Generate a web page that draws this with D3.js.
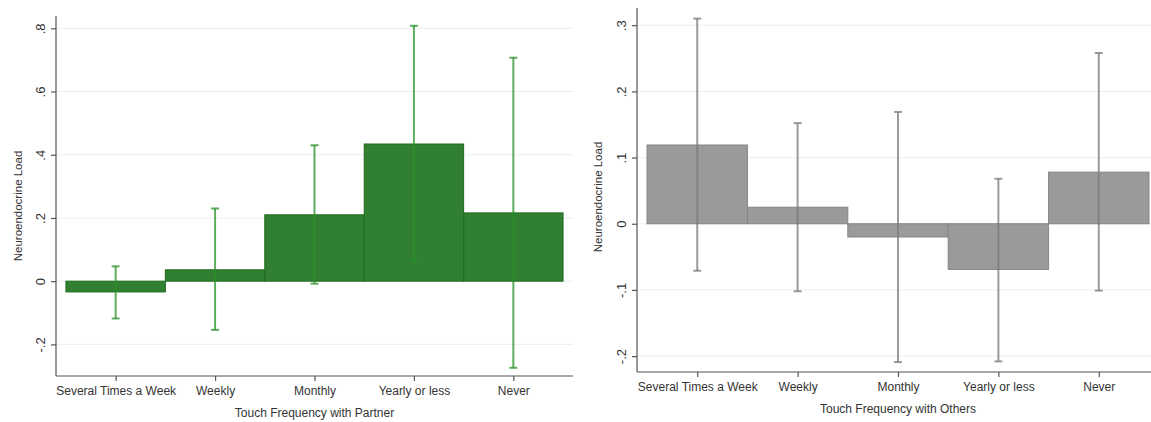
<!DOCTYPE html>
<html>
<head>
<meta charset="utf-8">
<script src="https://cdn.jsdelivr.net/npm/d3@7"></script>
<style>
	body { margin: 0; background: #fff; }
	svg { display: block; font-family: "Liberation Sans", Arial, sans-serif; }
</style>
</head>
<body>
<svg id="chart" width="1151" height="422"></svg>
<script>
/* Data */
const categories = ["Several Times a Week", "Weekly", "Monthly", "Yearly or less", "Never"];

const partnerMean = [-0.034, 0.036, 0.210, 0.434, 0.216];
const partnerLow = [-0.118, -0.154, -0.008, 0.065, -0.274];
const partnerHigh = [0.047, 0.230, 0.430, 0.808, 0.707];
const partnerTicks = [-0.2, 0, 0.2, 0.4, 0.6, 0.8];

const othersMean = [0.119, 0.025, -0.020, -0.069, 0.078];
const othersLow = [-0.071, -0.102, -0.209, -0.208, -0.101];
const othersHigh = [0.310, 0.152, 0.169, 0.068, 0.258];
const othersTicks = [-0.2, -0.1, 0, 0.1, 0.2, 0.3];

// Stata style labels: ".8", "-.2", "0"
function stataFmt(v) {
	if (Math.abs(v) < 1e-9) return "0";
	return String(+v.toFixed(2)).replace(/^(-?)0\./, "$1.");
}

const svg = d3.select("#chart");

/**
 * Draw one bar panel
 *
 * @param {Object} cfg - Panel layout and data.
 */
function panel(cfg) {
	let xScale = d3.scaleLinear().domain([0.4, 5.6]).range([cfg.left, cfg.right]);
	let yScale = d3.scaleLinear().domain(cfg.yDomain).range([cfg.bottom, cfg.top]);
	let rows = categories.map(function(c, i) {
		return { key: c, pos: i + 1, value: cfg.mean[i], low: cfg.low[i], high: cfg.high[i] };
	});

	let g = svg.append("g");

	// Gridlines
	g.selectAll(".grid")
		.data(cfg.ticks)
		.enter()
		.append("line")
		.attr("x1", cfg.left + 1)
		.attr("x2", cfg.right)
		.attr("y1", function(d) { return yScale(d); })
		.attr("y2", function(d) { return yScale(d); })
		.attr("stroke", "#e8f0f3")
		.attr("stroke-width", 1);

	// Bars
	g.selectAll(".bar")
		.data(rows)
		.enter()
		.append("rect")
		.attr("x", function(d) { return xScale(d.pos - 0.5); })
		.attr("width", function(d) { return xScale(d.pos + 0.5) - xScale(d.pos - 0.5); })
		.attr("y", function(d) { return yScale(Math.max(0, d.value)); })
		.attr("height", function(d) { return Math.abs(yScale(d.value) - yScale(0)); })
		.attr("fill", cfg.fill)
		.attr("stroke", cfg.outline)
		.attr("stroke-width", 1);

	// Error bars
	let err = g.selectAll(".err")
		.data(rows)
		.enter()
		.append("g")
		.attr("stroke", cfg.errColor)
		.attr("stroke-opacity", 0.75)
		.attr("stroke-width", 2);

	err.append("line")
		.attr("x1", function(d) { return xScale(d.pos); })
		.attr("x2", function(d) { return xScale(d.pos); })
		.attr("y1", function(d) { return yScale(d.low); })
		.attr("y2", function(d) { return yScale(d.high); });

	["low", "high"].forEach(function(k) {
		err.append("line")
			.attr("x1", function(d) { return xScale(d.pos) - 4; })
			.attr("x2", function(d) { return xScale(d.pos) + 4; })
			.attr("y1", function(d) { return yScale(d[k]); })
			.attr("y2", function(d) { return yScale(d[k]); });
	});

	// Axes
	let yAxis = g.append("g")
		.attr("transform", "translate(" + cfg.left + ",0)")
		.call(d3.axisLeft(yScale).tickValues(cfg.ticks).tickFormat(stataFmt).tickSizeOuter(0).tickSize(5));
	yAxis.select(".domain").attr("d", "M0," + cfg.top + "V" + cfg.bottom);

	let xAxis = g.append("g")
		.attr("transform", "translate(0," + cfg.bottom + ")")
		.call(d3.axisBottom(xScale).tickValues([1, 2, 3, 4, 5])
			.tickFormat(function(d) { return categories[d - 1]; })
			.tickSizeOuter(0).tickSize(5));
	xAxis.select(".domain").attr("d", "M" + cfg.left + ",0H" + cfg.right);
	xAxis.selectAll(".tick text").attr("y", 10).attr("dy", "0.71em");

	g.selectAll(".domain, .tick line").attr("stroke", "#555").attr("stroke-width", 1.2);
	g.selectAll(".tick text").attr("fill", "#333").style("font-size", "12px").style("font-family", "Liberation Sans, Arial, sans-serif");

	yAxis.selectAll(".tick text")
		.attr("transform", "rotate(-90)")
		.attr("x", 0)
		.attr("y", -11)
		.attr("dy", 0)
		.attr("text-anchor", "middle")
		.style("font-size", "13px");

	// Titles
	g.append("text")
		.attr("transform", "translate(" + cfg.yTitleX + "," + cfg.yTitleY + ") rotate(-90)")
		.attr("text-anchor", "middle")
		.attr("fill", "#333")
		.style("font-size", "11.5px")
		.text("Neuroendocrine Load");

	g.append("text")
		.attr("x", (xScale(1) + xScale(5)) / 2)
		.attr("y", cfg.xTitleY)
		.attr("text-anchor", "middle")
		.attr("fill", "#333")
		.style("font-size", "12px")
		.text(cfg.xTitle);
}

panel({
	left: 56, right: 573, top: 16, bottom: 376,
	yDomain: [-0.3, 0.839],
	ticks: partnerTicks,
	mean: partnerMean, low: partnerLow, high: partnerHigh,
	fill: "#317f31", outline: "#1d6b1d", errColor: "#289228",
	yTitleX: 22, yTitleY: 206, xTitleY: 417,
	xTitle: "Touch Frequency with Partner"
});

panel({
	left: 637, right: 1159, top: 8, bottom: 372,
	yDomain: [-0.224, 0.326],
	ticks: othersTicks,
	mean: othersMean, low: othersLow, high: othersHigh,
	fill: "#9a9a9a", outline: "#858585", errColor: "#7a7a7a",
	yTitleX: 602, yTitleY: 197, xTitleY: 413,
	xTitle: "Touch Frequency with Others"
});
</script>
</body>
</html>
